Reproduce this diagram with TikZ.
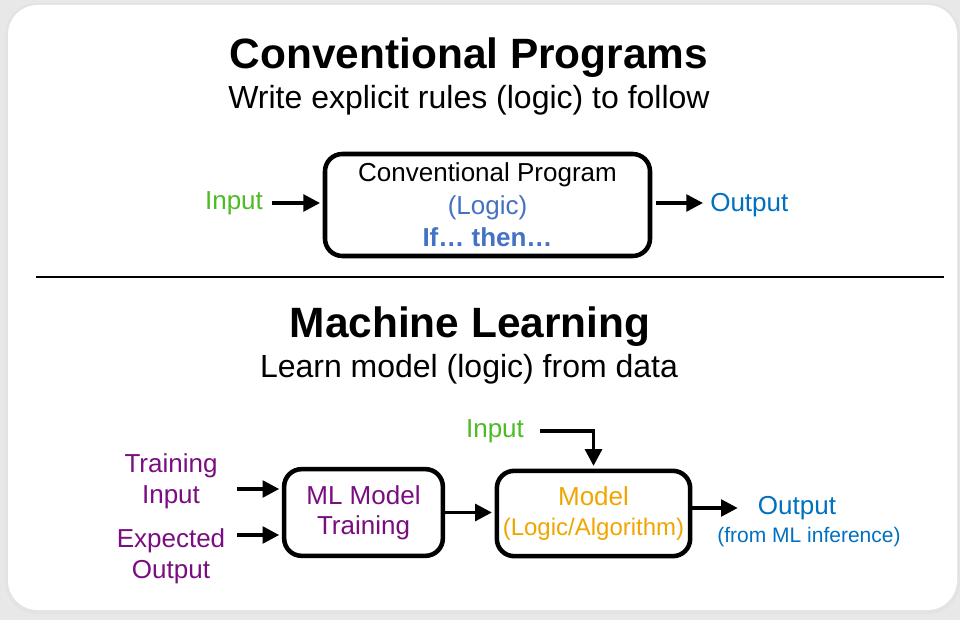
\documentclass[tikz,border=0pt]{standalone}
\usepackage{fontspec}
\setmainfont{Liberation Sans}
\usetikzlibrary{arrows.meta}
\definecolor{ingreen}{RGB}{78,186,38}
\definecolor{logicblue}{RGB}{68,114,196}
\definecolor{outblue}{RGB}{0,112,192}
\definecolor{mlpurple}{RGB}{122,14,128}
\definecolor{modelorange}{RGB}{240,166,0}
\definecolor{framegray}{RGB}{232,232,232}
\tikzset{every path/.style={line cap=butt}, prog/.style={draw=black, line width=3.4pt, rounded corners=13pt, align=center, inner sep=0pt}, flow/.style={line width=2.6pt, -{Triangle[length=12.5pt,width=12.5pt]}}, lbl/.style={font=\fontsize{19.5}{23.3}\selectfont, align=center, inner sep=0pt}, headline/.style={font=\fontsize{31.8}{36}\selectfont\bfseries, inner sep=0pt}, subline/.style={font=\fontsize{24}{28}\selectfont, inner sep=0pt}}

\begin{document}
\begin{tikzpicture}[x=0.75pt,y=-0.75pt]
   \useasboundingbox (0,0) rectangle (960,620);
   \fill[framegray] (0,0) rectangle (960,620);
   \fill[gray!22,rounded corners=24pt] (5,3) rectangle (960,614);
   \fill[white,rounded corners=22pt] (8,5) rectangle (957,610);
   \begin{scope}
    \node[headline] (title1) at (469,58) {Conventional Programs};
    \node[subline] (sub1) at (469,100) {Write explicit rules (logic) to follow};
    \node[prog,minimum width=243.75pt,minimum height=76.5pt,font=\fontsize{19.5}{24.4}\selectfont] (prog) at (487.5,205)
      {Conventional Program\\\textcolor{logicblue}{(Logic)}\\\textcolor{logicblue}{\bfseries If… then…}};
    \node[lbl,text=ingreen] (inp1) at (234,203) {Input};
    \node[lbl,text=outblue,anchor=west] (out1) at (710,205) {Output};
    \draw[flow,shorten <=6.75pt,shorten >=2pt] (inp1.east) -- (inp1.east -| prog.west);
    \draw[flow,shorten <=3pt,shorten >=5.25pt] (prog.east |- inp1.east) -- (inp1.east -| out1.west);
   \end{scope}
   \draw[line width=0.9pt] (36,277) -- (944,277);
   \begin{scope}
    \node[headline] (title2) at (470,327) {Machine Learning};
    \node[subline] (sub2) at (469,369) {Learn model (logic) from data};
    \node[prog,minimum width=119pt,minimum height=65pt,text=mlpurple,font=\fontsize{19.5}{22.5}\selectfont] (ml) at (363.5,512.5) {ML Model\\Training};
    \node[prog,minimum width=145pt,minimum height=64pt,text=modelorange,font=\fontsize{19.5}{22.5}\selectfont] (model) at (593.5,513.5)
      {Model\\{\fontsize{18}{22.5}\selectfont(Logic/Algorithm)}};
    \node[lbl,text=mlpurple] (trin) at (171,481.5) {Training\\Input};
    \node[lbl,text=mlpurple] (expo) at (171,556.5) {Expected\\Output};
    \node[lbl,text=ingreen] (inp2) at (495,431) {Input};
    \node[lbl,text=outblue] (out2) at (797,508) {Output};
    \node[lbl,text=outblue,font=\fontsize{15.75}{18}\selectfont] (outnote) at (809,537) {(from ML inference)};
    \coordinate (trin-a) at (237,489);
    \coordinate (expo-a) at (237,535);
    \draw[flow,shorten >=2pt] (trin-a) -- (trin-a -| ml.west);
    \draw[flow,shorten >=2pt] (expo-a) -- (expo-a -| ml.west);
    \draw[flow,shorten >=2pt] (ml.east) -- (ml.east -| model.west);
    \draw[flow,shorten <=12pt,shorten >=2pt] (inp2.east) -| (model.north);
    \draw[flow,shorten >=15pt] (model.east |- out2.west) -- (out2.west);
   \end{scope}
\end{tikzpicture}
\end{document}
